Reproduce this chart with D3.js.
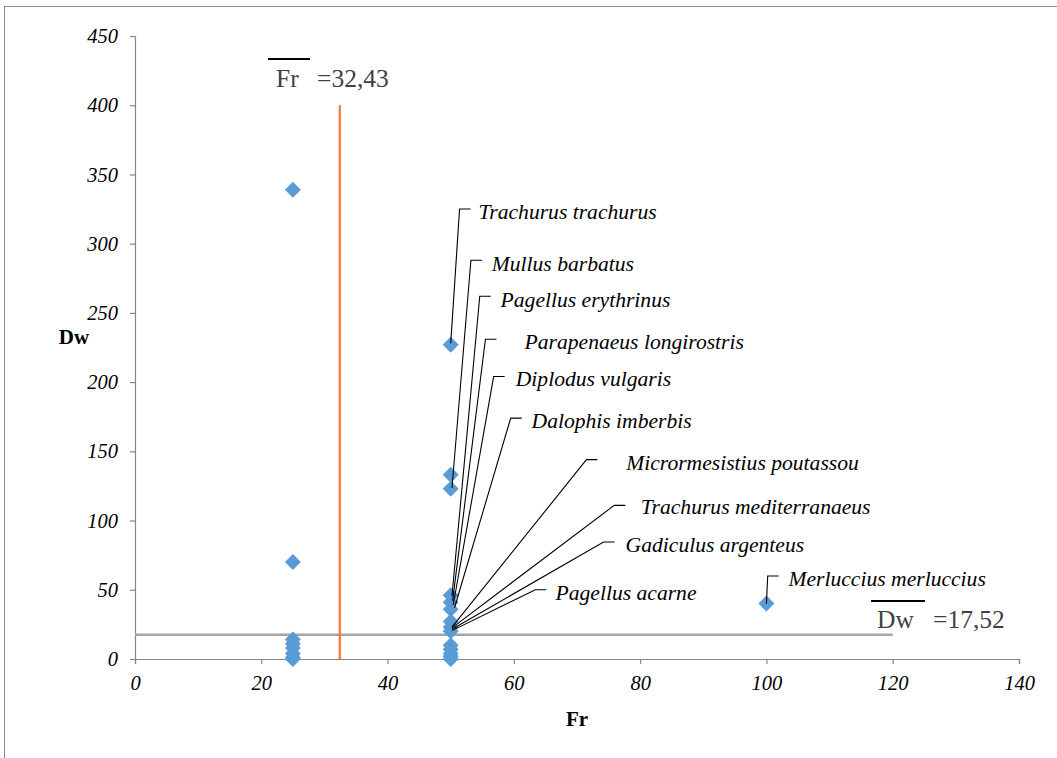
<!DOCTYPE html>
<html><head><meta charset="utf-8">
<script src="https://cdn.jsdelivr.net/npm/d3@7"></script>
<style>body{margin:0;background:#fff}svg{display:block}</style>
</head><body>
<svg id="chart" width="1057" height="758"></svg>
<script>
// ---- data ----
const frValues = [25,25,25,25,25,25,25,25, 50,50,50,50,50,50,50,50,50,50,50,50,50,50, 100];
const dwValues = [339,70,14,11,8,4,1,0, 227,133,123,46,41,36,27,23,20,10,7,4,0,2, 40];
const xTicks = [0,20,40,60,80,100,120,140];
const yTicks = [0,50,100,150,200,250,300,350,400,450];
const meanFr = 32.43, meanDw = 17.52;
const meanFrText = "=32,43", meanDwText = "=17,52";
const species = ["Trachurus trachurus","Mullus barbatus","Pagellus erythrinus","Parapenaeus longirostris",
  "Diplodus vulgaris","Dalophis imberbis","Micrormesistius poutassou","Trachurus mediterranaeus",
  "Gadiculus argenteus","Pagellus acarne","Merluccius merluccius"];
const labelFr = [54.4,56.5,57.9,61.7,60.3,62.8,77.8,80.1,77.7,66.6,103.5];
const labelDw = [323.6,286,260,229.7,203,172.6,142.3,110.5,83.1,48.4,58.5];
const cornerFr = [51.4,53.2,54.6,55.5,56.8,59.5,71.5,75.9,74.2,63.4,100.2];
const cornerDw = [325,288,262,231,204,174,144,111,84.5,50,60];
const endFr = [50,50.2,50.2,50.3,50.4,50.6,50.2,50.2,50.2,50.2,100];
const endDw = [228,123.5,45.5,42,39,37,23,22.5,21.5,20.5,40];

// ---- drawing ----
const svg = d3.select("#chart");
const x = d3.scaleLinear().domain([0,140]).range([135,1019]);
const y = d3.scaleLinear().domain([0,450]).range([659,36]);
const serif = "'Liberation Serif','Times New Roman',serif";

svg.append("rect").attr("x",4.5).attr("y",6.5).attr("width",1200).attr("height",900)
  .attr("fill","none").attr("stroke","#8c8c8c").attr("stroke-width",1);

// axes
const xAxis = svg.append("g").attr("transform",`translate(0,${y(0)})`)
  .call(d3.axisBottom(x).tickValues(xTicks).tickSize(5).tickPadding(8).tickFormat(d3.format("d")));
const yAxis = svg.append("g").attr("transform",`translate(${x(0)},0)`)
  .call(d3.axisLeft(y).tickValues(yTicks).tickSize(5).tickPadding(12).tickFormat(d3.format("d")));
[xAxis,yAxis].forEach(g=>{
  g.select(".domain").attr("stroke","#868686").attr("stroke-width",1.2);
  g.selectAll(".tick line").attr("stroke","#868686").attr("stroke-width",1.2);
  g.selectAll("text").attr("font-family",serif).attr("font-style","italic")
    .attr("font-size",20.5).attr("fill","#000");
});
xAxis.selectAll("text").attr("dy","0.9em");

// axis titles
svg.append("text").attr("x",x(70)).attr("y",726).attr("text-anchor","middle")
  .attr("font-family",serif).attr("font-weight","bold").attr("font-size",21).text("Fr");
svg.append("text").attr("x",74).attr("y",344).attr("text-anchor","middle")
  .attr("font-family",serif).attr("font-weight","bold").attr("font-size",21).text("Dw");

// mean lines
svg.append("line").attr("x1",x(0)).attr("x2",x(120)).attr("y1",y(meanDw)).attr("y2",y(meanDw))
  .attr("stroke","#a5a5a5").attr("stroke-width",2.5);
svg.append("line").attr("x1",x(meanFr)).attr("x2",x(meanFr)).attr("y1",y(0)).attr("y2",y(400))
  .attr("stroke","#ed7d31").attr("stroke-width",2.25);

// points
const diamond = "M0,-8L8,0L0,8L-8,0Z";
svg.append("g").selectAll("path").data(frValues.map((f,i)=>[f,dwValues[i]])).join("path")
  .attr("d",diamond).attr("transform",d=>`translate(${x(d[0])},${y(d[1])})`)
  .attr("fill","#5b9bd5");

// leader lines and labels
const lab = svg.append("g");
species.forEach((s,i)=>{
  const cx = x(cornerFr[i]), cy = y(cornerDw[i]);
  lab.append("polyline")
    .attr("points",`${cx+11},${cy} ${cx},${cy} ${x(endFr[i])},${y(endDw[i])}`)
    .attr("fill","none").attr("stroke","#000").attr("stroke-width",1.1);
  lab.append("text").attr("x",x(labelFr[i])).attr("y",y(labelDw[i])).attr("dy","0.35em")
    .attr("font-family",serif).attr("font-style","italic").attr("font-size",21.6).text(s);
});

// mean annotations
function meanLabel(tx, ty, name, val, ox1, ox2, oy){
  const g = svg.append("g").attr("fill","#404040").attr("font-family",serif).attr("font-size",25.5);
  g.append("text").attr("x",tx).attr("y",ty).text(name);
  g.append("text").attr("x",tx + (name==="Fr"?41:56)).attr("y",ty).text(val);
  svg.append("line").attr("x1",ox1).attr("x2",ox2).attr("y1",oy).attr("y2",oy)
    .attr("stroke","#000").attr("stroke-width",2);
}
meanLabel(276, 87, "Fr", meanFrText, 268, 310, 59);
meanLabel(877, 628, "Dw", meanDwText, 871, 925, 601);
</script>
</body></html>
